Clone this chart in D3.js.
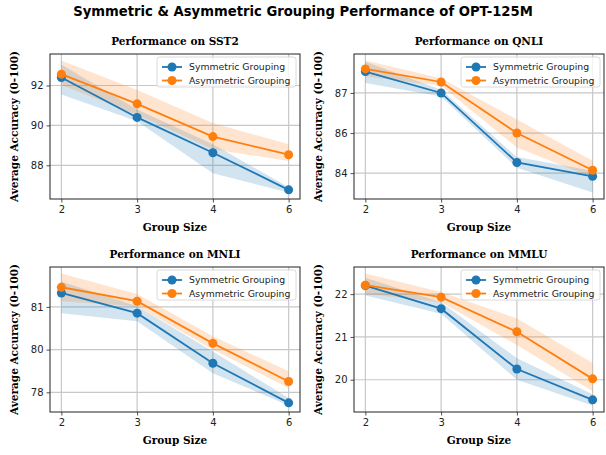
<!DOCTYPE html>
<html lang="en">
<head>
<meta charset="UTF-8">
<title>Symmetric & Asymmetric Grouping Performance of OPT-125M</title>
<script src="https://d3js.org/d3.v7.min.js"></script>
<style>
    body { margin: 0; background: #fff; }
    .tick text { font-family: "DejaVu Sans", sans-serif; font-size: 10px; fill: #222; }
    .sup { font-family: "DejaVu Sans", sans-serif; font-weight: bold; font-size: 13.2px; }
    .ttl, .lab { font-family: "DejaVu Serif", serif; font-weight: bold; font-size: 10.5px; }
    .leg { font-family: "DejaVu Sans", sans-serif; font-size: 9.3px; fill: #222; }
</style>
</head>
<body>
<div id="chart"></div>
<script>
const groupSizes = ["2", "3", "4", "6"];

const sst2Sym    = [92.40, 90.40, 88.63, 86.77];
const sst2SymLo  = [91.55, 90.21, 87.60, 86.64];
const sst2SymHi  = [93.05, 90.80, 89.05, 86.90];
const sst2Asym   = [92.57, 91.08, 89.44, 88.53];
const sst2AsymLo = [92.03, 90.54, 88.80, 88.22];
const sst2AsymHi = [93.25, 91.78, 90.12, 89.05];
const sst2Ticks  = [88, 90, 92];

const qnliSym    = [87.80, 87.00, 84.40, 83.88];
const qnliSymLo  = [87.37, 86.87, 84.20, 83.28];
const qnliSymHi  = [88.17, 87.12, 84.60, 84.09];
const qnliAsym   = [87.90, 87.41, 85.50, 84.11];
const qnliAsymLo = [87.62, 87.27, 84.96, 83.84];
const qnliAsymHi = [88.21, 87.55, 86.01, 84.46];
const qnliTicks  = [84, 85.5, 87];

const mnliSym    = [81.49, 80.78, 79.02, 77.63];
const mnliSymLo  = [80.78, 80.50, 78.67, 77.54];
const mnliSymHi  = [81.89, 81.02, 79.43, 77.80];
const mnliAsym   = [81.69, 81.20, 79.72, 78.38];
const mnliAsymLo = [81.20, 81.02, 79.50, 78.15];
const mnliAsymHi = [82.17, 81.45, 79.97, 78.74];
const mnliTicks  = [78, 79.5, 81];

const mmluSym    = [22.20, 21.66, 20.25, 19.53];
const mmluSymLo  = [21.97, 21.54, 20.00, 19.40];
const mmluSymHi  = [22.38, 21.81, 20.50, 19.66];
const mmluAsym   = [22.21, 21.93, 21.12, 20.02];
const mmluAsymLo = [22.01, 21.81, 20.81, 19.73];
const mmluAsymHi = [22.48, 22.05, 21.43, 20.39];
const mmluTicks  = [20, 21, 22];

const panels = [
    {title: "Performance on SST2", sym: sst2Sym, symLo: sst2SymLo, symHi: sst2SymHi, asym: sst2Asym, asymLo: sst2AsymLo, asymHi: sst2AsymHi, ticks: sst2Ticks, x: 50, y: 54},
    {title: "Performance on QNLI", sym: qnliSym, symLo: qnliSymLo, symHi: qnliSymHi, asym: qnliAsym, asymLo: qnliAsymLo, asymHi: qnliAsymHi, ticks: qnliTicks, x: 354, y: 54},
    {title: "Performance on MNLI", sym: mnliSym, symLo: mnliSymLo, symHi: mnliSymHi, asym: mnliAsym, asymLo: mnliAsymLo, asymHi: mnliAsymHi, ticks: mnliTicks, x: 50, y: 267},
    {title: "Performance on MMLU", sym: mmluSym, symLo: mmluSymLo, symHi: mmluSymHi, asym: mmluAsym, asymLo: mmluAsymLo, asymHi: mmluAsymHi, ticks: mmluTicks, x: 354, y: 267}
];

const W = 606, H = 455;
const pw = 250, ph = 145;
const blue = "#1f77b4", orange = "#ff7f0e";

const svg = d3.select("#chart").append("svg")
    .attr("width", W)
    .attr("height", H);

svg.append("text")
    .attr("class", "sup")
    .attr("x", W / 2)
    .attr("y", 16)
    .attr("text-anchor", "middle")
    .text("Symmetric & Asymmetric Grouping Performance of OPT-125M");

panels.forEach(p => {
    const g = svg.append("g").attr("transform", `translate(${p.x},${p.y})`);

    // categorical x with matplotlib-like 5% margins
    const xIdx = d3.scaleLinear().domain([-0.15, 3.15]).range([0, pw]);
    const all = p.symLo.concat(p.symHi, p.asymLo, p.asymHi, p.sym, p.asym);
    const lo = d3.min(all), hi = d3.max(all), pad = (hi - lo) * 0.05;
    const y = d3.scaleLinear().domain([lo - pad, hi + pad]).range([ph, 0]);

    // grid
    g.append("g").selectAll("line").data(groupSizes).join("line")
        .attr("x1", (d, i) => xIdx(i)).attr("x2", (d, i) => xIdx(i))
        .attr("y1", 0).attr("y2", ph)
        .attr("stroke", "#c8c8c8").attr("stroke-width", 1.2);
    g.append("g").selectAll("line").data(p.ticks).join("line")
        .attr("x1", 0).attr("x2", pw)
        .attr("y1", d => y(d)).attr("y2", d => y(d))
        .attr("stroke", "#c8c8c8").attr("stroke-width", 1.2);

    const series = [
        {name: "Symmetric Grouping", v: p.sym, lo: p.symLo, hi: p.symHi, c: blue},
        {name: "Asymmetric Grouping", v: p.asym, lo: p.asymLo, hi: p.asymHi, c: orange}
    ];

    const area = d3.area()
        .x((d, i) => xIdx(i))
        .y0(d => y(d[0]))
        .y1(d => y(d[1]));
    const line = d3.line()
        .x((d, i) => xIdx(i))
        .y(d => y(d));

    series.forEach(s => {
        g.append("path")
            .datum(s.lo.map((d, i) => [d, s.hi[i]]))
            .attr("d", area)
            .attr("fill", s.c)
            .attr("fill-opacity", 0.2);
    });
    series.forEach(s => {
        g.append("path")
            .datum(s.v)
            .attr("d", line)
            .attr("fill", "none")
            .attr("stroke", s.c)
            .attr("stroke-width", 1.8);
        g.append("g").selectAll("circle").data(s.v).join("circle")
            .attr("cx", (d, i) => xIdx(i))
            .attr("cy", d => y(d))
            .attr("r", 4.5)
            .attr("fill", s.c);
    });

    // axes
    const xAxis = d3.axisBottom(xIdx).tickValues([0, 1, 2, 3])
        .tickFormat(i => groupSizes[i]).tickSize(3.5).tickPadding(3);
    const yAxis = d3.axisLeft(y).tickValues(p.ticks)
        .tickFormat(d3.format(".0f")).tickSize(3.5).tickPadding(3);
    const gx = g.append("g").attr("transform", `translate(0,${ph})`).call(xAxis);
    const gy = g.append("g").call(yAxis);
    [gx, gy].forEach(a => {
        a.select(".domain").remove();
        a.selectAll(".tick line").attr("stroke", "#222").attr("stroke-width", 0.8);
    });

    g.append("rect")
        .attr("width", pw).attr("height", ph)
        .attr("fill", "none").attr("stroke", "#222").attr("stroke-width", 1);

    g.append("text")
        .attr("class", "ttl")
        .attr("x", pw / 2).attr("y", -9)
        .attr("text-anchor", "middle")
        .text(p.title);
    g.append("text")
        .attr("class", "lab")
        .attr("x", pw / 2).attr("y", ph + 32)
        .attr("text-anchor", "middle")
        .text("Group Size");
    g.append("text")
        .attr("class", "lab")
        .attr("transform", `translate(${-32},${ph / 2}) rotate(-90)`)
        .attr("text-anchor", "middle")
        .text("Average Accuracy (0-100)");

    // legend
    const lg = g.append("g").attr("transform", `translate(${pw - 143},3)`);
    lg.append("rect")
        .attr("width", 139).attr("height", 30).attr("rx", 2.5)
        .attr("fill", "#fff").attr("fill-opacity", 0.8)
        .attr("stroke", "#d0d0d0").attr("stroke-width", 0.8);
    series.forEach((s, i) => {
        const ly = 10 + i * 13.5;
        lg.append("line").attr("x1", 5).attr("x2", 25).attr("y1", ly).attr("y2", ly)
            .attr("stroke", s.c).attr("stroke-width", 1.8);
        lg.append("circle").attr("cx", 15).attr("cy", ly).attr("r", 4.5).attr("fill", s.c);
        lg.append("text").attr("class", "leg").attr("x", 32).attr("y", ly + 3.3).text(s.name);
    });
});
</script>
</body>
</html>
